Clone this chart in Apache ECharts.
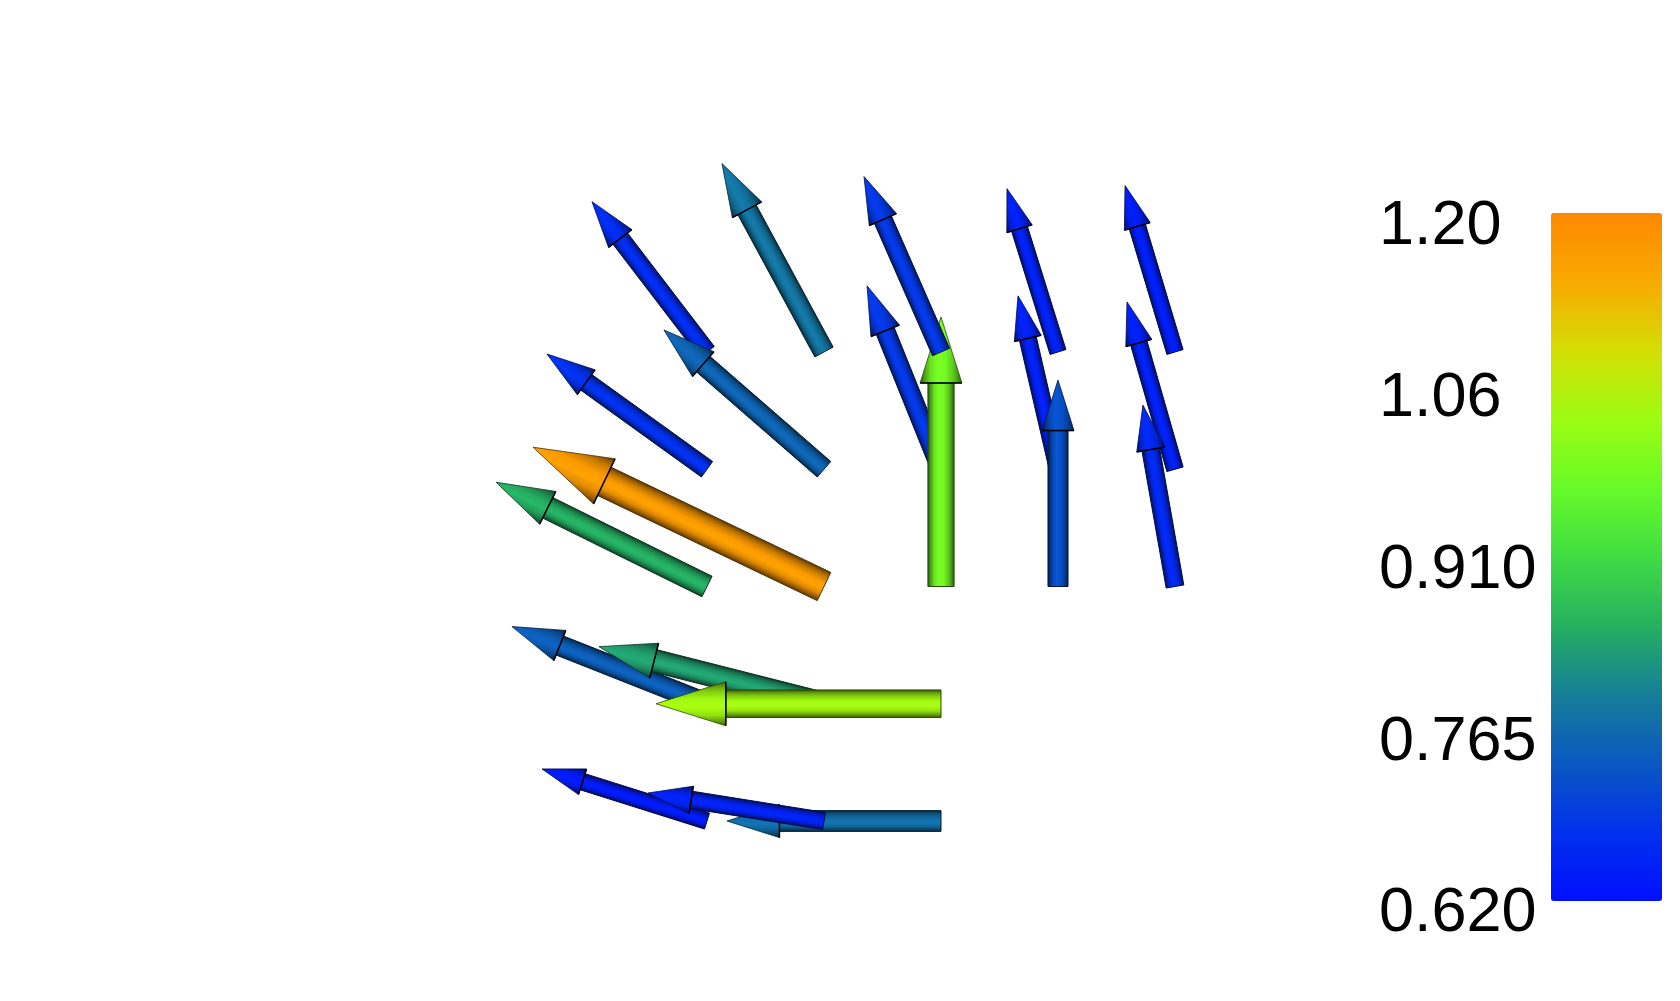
<!DOCTYPE html>
<html>
<head>
<meta charset="utf-8">
<script src="https://cdn.jsdelivr.net/npm/echarts@6/dist/echarts.min.js"></script>
<style>
  html, body { margin: 0; padding: 0; background: #fff; }
  #chart { width: 1680px; height: 1001px; }
</style>
</head>
<body>
<div id="chart"></div>
<script>
// glyph tails on a 5x5 grid (col, row), row 0 = bottom
var px  = [0, 1, 3, 4,   0, 1, 2, 3, 4,   0, 1, 2, 3, 4,   2,   0, 1, 2,   0, 2, 1];
var py  = [4, 4, 4, 4,   3, 3, 3, 3, 3,   2, 2, 2, 2, 2,   4,   1, 1, 1,   0, 0, 0];
// vector components in grid units
var u   = [-0.983, -0.872, -0.436, -0.427,
           -1.368, -1.368, -0.632, -0.342, -0.410,
           -1.803, -2.487, 0.000, 0.000, -0.274,
           -0.658,
           -1.667, -1.923, -2.436,
           -1.410, -1.829, -1.504];
var v   = [1.282, 1.607, 1.393, 1.419,
           0.983, 1.188, 1.564, 1.479, 1.427,
           0.889, 1.188, 2.299, 1.761, 1.547,
           1.496,
           0.658, 0.487, 0.000,
           0.444, 0.000, 0.239];
// vector magnitude (colour)
var mag = [0.67, 0.78, 0.65, 0.645,
           0.68, 0.755, 0.69, 0.65, 0.65,
           0.85, 1.17, 0.98, 0.725, 0.665,
           0.69,
           0.745, 0.835, 1.03,
           0.64, 0.77, 0.655];

var tickLabels = ['0.620', '0.765', '0.910', '1.06', '1.20'];
var rampColors = ['#0010ff', '#0230ee', '#0a58c0', '#167e98', '#26b060', '#40dc44',
                  '#68fa28', '#9cfc12', '#d4de04', '#f8aa00', '#ff8800'];

var glyphs = [];
for (var i = 0; i < px.length; i++) {
    glyphs.push([px[i], py[i], u[i], v[i], mag[i]]);
}

function shade(c, k) {
    var a = echarts.color.parse(c);
    var r = [];
    for (var j = 0; j < 3; j++) {
        r.push(Math.max(0, Math.min(255, Math.round(a[j] * k))));
    }
    return 'rgb(' + r.join(',') + ')';
}

function bands(c) {
    return [
        { offset: 0, color: shade(c, 0.35) },
        { offset: 0.1, color: shade(c, 0.62) },
        { offset: 0.22, color: shade(c, 0.82) },
        { offset: 0.4, color: shade(c, 1.0) },
        { offset: 0.58, color: shade(c, 1.06) },
        { offset: 0.76, color: shade(c, 0.9) },
        { offset: 0.9, color: shade(c, 0.62) },
        { offset: 1, color: shade(c, 0.35) }
    ];
}

function renderArrow(params, api) {
    var x = api.value(0), y = api.value(1);
    var p0 = api.coord([x, y]);
    var p1 = api.coord([x + api.value(2), y + api.value(3)]);
    var color = api.visual('color');
    var dx = p1[0] - p0[0], dy = p1[1] - p0[1];
    var L = Math.sqrt(dx * dx + dy * dy);
    var ux = dx / L, uy = dy / L;
    var nx = -uy, ny = ux;
    var w = 0.097 * L / 2;
    var hw = 0.155 * L / 2;
    var hl = 0.245 * L;
    var b = [p1[0] - ux * hl, p1[1] - uy * hl];
    var edge = shade(color, 0.3);

    var shaft = [
        [p0[0] + nx * w, p0[1] + ny * w],
        [b[0] + nx * w, b[1] + ny * w],
        [b[0] - nx * w, b[1] - ny * w],
        [p0[0] - nx * w, p0[1] - ny * w]
    ];
    var head = [
        [b[0] + nx * hw, b[1] + ny * hw],
        p1,
        [b[0] - nx * hw, b[1] - ny * hw]
    ];
    return {
        type: 'group',
        children: [
            {
                type: 'polygon',
                shape: { points: shaft },
                style: {
                    fill: new echarts.graphic.LinearGradient(
                        shaft[0][0], shaft[0][1], shaft[3][0], shaft[3][1], bands(color), true),
                    stroke: edge,
                    lineWidth: 1
                }
            },
            {
                type: 'polygon',
                shape: { points: head },
                style: {
                    fill: new echarts.graphic.LinearGradient(
                        head[0][0], head[0][1], head[2][0], head[2][1], bands(color), true),
                    stroke: edge,
                    lineWidth: 0.8
                }
            },
            {
                type: 'line',
                shape: { x1: head[0][0], y1: head[0][1], x2: head[2][0], y2: head[2][1] },
                style: { stroke: '#000', lineWidth: 1.5 }
            }
        ]
    };
}

var chart = echarts.init(document.getElementById('chart'));
chart.setOption({
    backgroundColor: '#ffffff',
    animation: false,
    grid: [
        { left: 707, width: 468, top: 352, height: 469 },
        { left: 1379, width: 1, top: 227, height: 687 }
    ],
    xAxis: [
        { type: 'value', gridIndex: 0, min: 0, max: 4, show: false },
        { type: 'value', gridIndex: 1, show: false }
    ],
    yAxis: [
        { type: 'value', gridIndex: 0, min: 0, max: 4, show: false },
        {
            type: 'category',
            gridIndex: 1,
            data: tickLabels,
            boundaryGap: false,
            axisLine: { show: false },
            axisTick: { show: false },
            splitLine: { show: false },
            axisLabel: {
                inside: true,
                margin: 0,
                interval: 0,
                color: '#000',
                fontFamily: 'Liberation Sans',
                fontSize: 63
            }
        }
    ],
    visualMap: {
        type: 'continuous',
        seriesIndex: 0,
        dimension: 4,
        min: 0.62,
        max: 1.2,
        calculable: false,
        hoverLink: false,
        left: 1551,
        top: 213,
        padding: 0,
        itemWidth: 111,
        itemHeight: 688,
        text: null,
        inRange: { color: rampColors }
    },
    series: [
        {
            type: 'custom',
            xAxisIndex: 0,
            yAxisIndex: 0,
            clip: false,
            renderItem: renderArrow,
            data: glyphs
        }
    ]
});
</script>
</body>
</html>
